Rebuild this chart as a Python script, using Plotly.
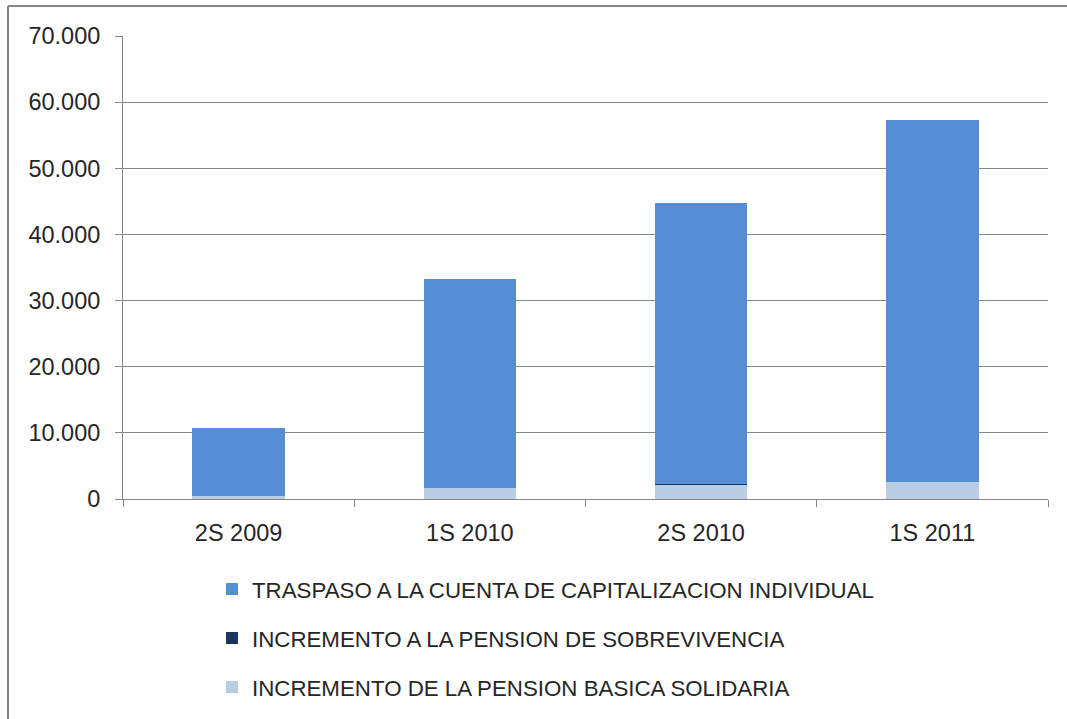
import plotly.graph_objects as go

categories = ["2S 2009", "1S 2010", "2S 2010", "1S 2011"]
basica = [400, 1600, 2150, 2600]
sobrevivencia = [0, 0, 150, 0]
traspaso = [10300, 31600, 42500, 54700]

names = {
    "traspaso": "TRASPASO A LA CUENTA DE CAPITALIZACION INDIVIDUAL",
    "sobrevivencia": "INCREMENTO A LA PENSION DE SOBREVIVENCIA",
    "basica": "INCREMENTO DE LA PENSION BASICA SOLIDARIA",
}
colors = {"traspaso": "#558ED5", "sobrevivencia": "#17375E", "basica": "#B9CDE5"}
ranks = {"traspaso": 1, "sobrevivencia": 2, "basica": 3}

y_ticks = [0, 10000, 20000, 30000, 40000, 50000, 60000, 70000]

fig = go.Figure()
for key, vals in [("basica", basica), ("sobrevivencia", sobrevivencia), ("traspaso", traspaso)]:
    fig.add_trace(go.Bar(
        x=categories, y=vals, name=names[key], legendgroup=key,
        legendrank=ranks[key],
        marker=dict(color=colors[key], line=dict(width=0)),
        width=0.4, hoverinfo="skip",
    ))

font_family = "Liberation Sans, Arial, sans-serif"
fig.update_layout(
    barmode="stack",
    width=1067, height=719,
    margin=dict(l=123, r=19, t=36, b=220, autoexpand=False),
    paper_bgcolor="white", plot_bgcolor="white",
    separators=",.",
    font=dict(family=font_family, size=23.5, color="#262626"),
    showlegend=True,
    legend=dict(
        orientation="v", traceorder="grouped", tracegroupgap=17,
        x=(212 - 123) / 925, xanchor="left", y=-(568 - 499) / 463, yanchor="top",
        font=dict(size=22.3, color="#262626"),
        itemwidth=30,
    ),
    xaxis=dict(
        showline=True, linecolor="#868686", linewidth=1,
        ticks="outside", tickson="boundaries", ticklen=7, tickcolor="#868686",
        showgrid=False, ticklabelstandoff=13, automargin=False,
        range=[-0.5, 3.5],
    ),
    yaxis=dict(
        range=[0, 70000], tickvals=y_ticks, tickformat=",d",
        showline=True, linecolor="#868686", linewidth=1,
        ticks="outside", ticklen=7, tickcolor="#868686",
        showgrid=True, gridcolor="#868686", gridwidth=1,
        zeroline=False, ticklabelstandoff=10, automargin=False,
    ),
    shapes=[
        dict(type="line", xref="paper", yref="paper",
             x0=(8 - 123) / 925, x1=(1080 - 123) / 925,
             y0=(499 - 6) / 463, y1=(499 - 6) / 463,
             line=dict(color="#868686", width=2)),
        dict(type="line", xref="paper", yref="paper",
             x0=(8 - 123) / 925, x1=(8 - 123) / 925,
             y0=(499 - 6) / 463, y1=(499 - 730) / 463,
             line=dict(color="#868686", width=2)),
    ],
)

fig.write_html("out.html", config={"displayModeBar": False},
               post_script="document.body.style.margin='0';")
